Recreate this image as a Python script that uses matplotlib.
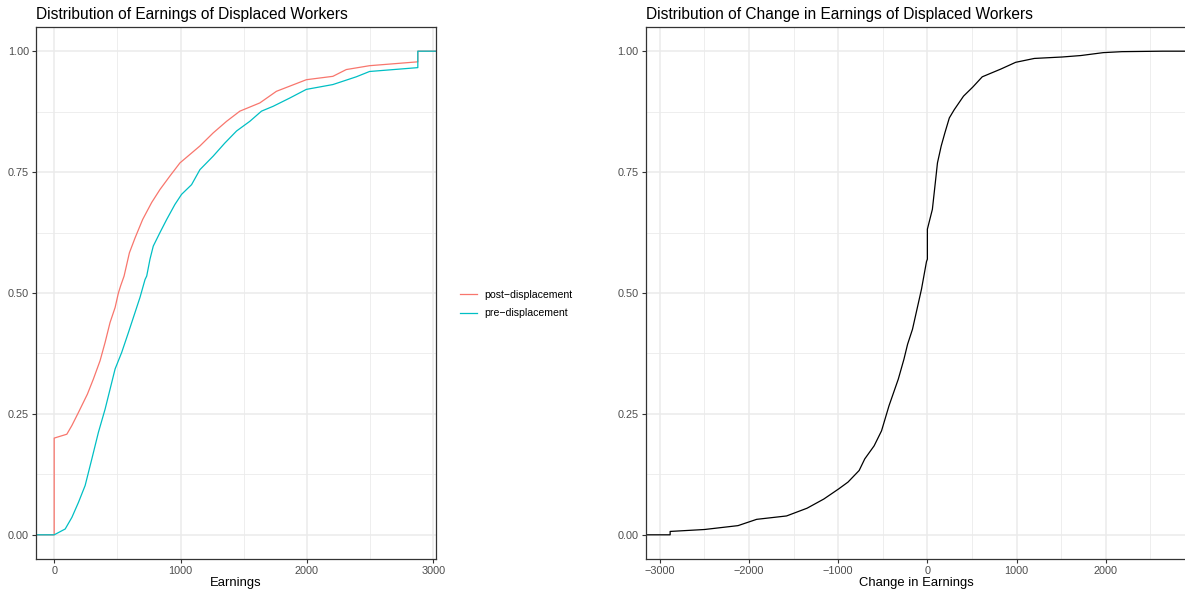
import matplotlib
matplotlib.use('Agg')
import matplotlib.pyplot as plt

# values
post_x = [0, 0, 100, 140, 192, 263, 310, 363, 403, 442, 482, 508, 526, 553, 595, 640,
          700, 771, 837, 916, 995, 1153, 1258, 1364, 1469, 1627, 1758, 1995, 2205,
          2311, 2495, 2877, 2877]
post_y = [0.0, 0.200, 0.208, 0.226, 0.253, 0.291, 0.322, 0.360, 0.398, 0.439, 0.470,
          0.500, 0.515, 0.535, 0.583, 0.614, 0.652, 0.687, 0.714, 0.742, 0.769, 0.804,
          0.831, 0.855, 0.876, 0.893, 0.917, 0.941, 0.948, 0.962, 0.970, 0.978, 1.0]

pre_x = [0, 87, 140, 192, 245, 298, 350, 403, 442, 482, 534, 587, 640, 679, 719, 732,
         758, 784, 837, 890, 955, 1008, 1087, 1153, 1258, 1350, 1443, 1548, 1640, 1732,
         1863, 1995, 2205, 2390, 2495, 2877, 2877]
pre_y = [0.0, 0.012, 0.036, 0.067, 0.102, 0.157, 0.212, 0.260, 0.301, 0.343, 0.377,
         0.418, 0.460, 0.491, 0.528, 0.535, 0.570, 0.597, 0.625, 0.652, 0.683, 0.704,
         0.724, 0.755, 0.783, 0.810, 0.835, 0.855, 0.876, 0.886, 0.903, 0.921, 0.931,
         0.947, 0.958, 0.966, 1.0]

chg_x = [-2884, -2884, -2498, -2123, -1914, -1579, -1349, -1161, -994, -890, -765,
         -702, -597, -514, -430, -326, -263, -222, -167, -66, -10, 0, 0, 56, 93, 113,
         155, 196, 246, 301, 405, 510, 615, 823, 990, 1199, 1513, 1721, 1972, 2181, 2640]
chg_y = [0.0, 0.007, 0.011, 0.019, 0.032, 0.039, 0.055, 0.074, 0.095, 0.109, 0.133,
         0.157, 0.184, 0.215, 0.267, 0.322, 0.363, 0.394, 0.425, 0.508, 0.565, 0.570,
         0.632, 0.673, 0.735, 0.769, 0.804, 0.831, 0.862, 0.879, 0.907, 0.926, 0.947,
         0.963, 0.977, 0.985, 0.988, 0.991, 0.997, 0.999, 1.0]

labels = ['post\u2212displacement', 'pre\u2212displacement']
colors = ['#F8766D', '#00BFC4']
left_ticks = [0, 1000, 2000, 3000]
right_ticks = [-3000, -2000, -1000, 0, 1000, 2000]
y_ticks = [0.0, 0.25, 0.5, 0.75, 1.0]

plt.rcParams['font.family'] = ['Liberation Sans', 'DejaVu Sans']

W, H = 1185, 594
fig = plt.figure(figsize=(W / 100, H / 100), dpi=100)


def ggplot_axes(rect, xmin, xmax, major, minor):
    ax = fig.add_axes(rect)
    rng = xmax - xmin
    ax.set_xlim(xmin - 0.05 * rng, xmax + 0.05 * rng)
    ax.set_ylim(-0.05, 1.05)
    ax.set_xticks(major)
    ax.set_xticks(minor, minor=True)
    ax.set_yticks(y_ticks)
    ax.set_yticks([0.125, 0.375, 0.625, 0.875], minor=True)
    ax.set_yticklabels(['%.2f' % v for v in y_ticks])
    ax.grid(which='major', color='#EBEBEB', linewidth=1.1)
    ax.grid(which='minor', color='#EBEBEB', linewidth=0.6)
    ax.set_axisbelow(True)
    ax.tick_params(which='major', length=3, width=0.8, color='#333333',
                   labelsize=7.8, labelcolor='#4D4D4D', pad=2)
    ax.tick_params(which='minor', length=0)
    for s in ax.spines.values():
        s.set_color('#333333')
        s.set_linewidth(0.9)
    return ax


def ecdf_line(ax, xs, ys, **kw):
    # ggplot pads the ecdf out to the panel edges
    lo, hi = ax.get_xlim()
    ax.plot([lo] + xs + [hi], [ys[0]] + ys + [ys[-1]], **kw)


# left panel
ax1 = ggplot_axes([36 / W, 35 / H, 400 / W, 532 / H],
                  min(post_x + pre_x), max(post_x + pre_x),
                  left_ticks, [500, 1500, 2500])
ecdf_line(ax1, post_x, post_y, color=colors[0], linewidth=0.9, label=labels[0])
ecdf_line(ax1, pre_x, pre_y, color=colors[1], linewidth=0.9, label=labels[1])
ax1.set_title('Distribution of Earnings of Displaced Workers', loc='left',
              fontsize=11.2, pad=6)
ax1.set_xlabel('Earnings', fontsize=9.4, labelpad=1)

fig.legend(loc='center left', bbox_to_anchor=(455 / W, 1 - 304 / H),
           frameon=False, fontsize=7.6, handlelength=1.6, handletextpad=0.7,
           labelspacing=0.85, borderpad=0)

# right panel (runs off the right edge like the reference)
ax2 = ggplot_axes([645.5 / W, 35 / H, (1187.5 - 645.5) / W, 532 / H],
                  min(chg_x), max(chg_x),
                  right_ticks, [-2500, -1500, -500, 500, 1500, 2500])
ecdf_line(ax2, chg_x, chg_y, color='black', linewidth=0.9)
ax2.set_title('Distribution of Change in Earnings of Displaced Workers', loc='left',
              fontsize=11.2, pad=6)
ax2.set_xlabel('Change in Earnings', fontsize=9.4, labelpad=1)

fig.savefig('out.png', dpi=100)
